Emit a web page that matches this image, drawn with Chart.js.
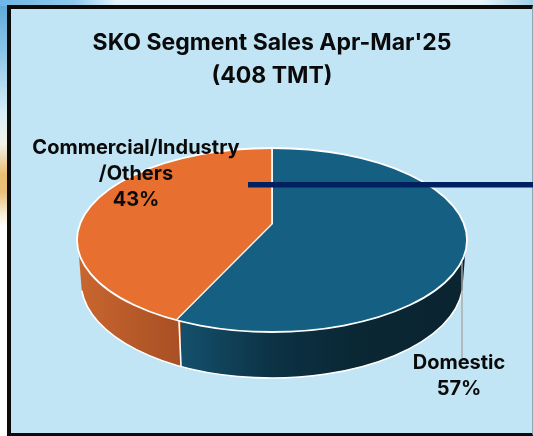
<!DOCTYPE html>
<html><head><meta charset="utf-8">
<style>
html,body{margin:0;padding:0;background:#fff;width:533px;height:436px;overflow:hidden}
#wrap{position:relative;width:533px;height:436px;
background:linear-gradient(180deg,#5aa7d8 0,#8cc6e8 12%,#d9edf7 26%,#f4f2e6 33%,#e8bf72 40%,#e8c07a 44%,#f8ecd4 49%,#ffffff 52%,#ffffff 100%)}
#top{position:absolute;left:0;top:0;width:533px;height:6px;background:linear-gradient(90deg,#6fb6e6 0,#8fcaee 14%,#e4f3fb 22%,#e8f5fb 90%,#9fd0ea 100%)}
#panel{position:absolute;left:7px;top:5px;width:526px;height:431px;box-sizing:border-box;background:#C1E5F5;border-left:4px solid #0b0b0b;border-top:4px solid #0b0b0b;border-bottom:3px solid #0b0b0b;border-right:1px solid #8fa6b2}
canvas{position:absolute;left:0;top:0}
</style></head><body>
<div id="wrap"><div id="top"></div><div id="panel"></div><canvas id="c" width="533" height="436"></canvas></div>
<script src="https://cdn.jsdelivr.net/npm/chart.js@4"></script>
<script>
const titleLines = ["SKO Segment Sales Apr-Mar'25", "(408 TMT)"];
const categories = ["Domestic", "Commercial/Industry/Others"];
const shares = [57, 43];
const sliceColors = ["#156082", "#E77030"];
const labelLines = [["Domestic", "57%"], ["Commercial/Industry", "/Others", "43%"]];

const FONT = 'Inter, Roboto, sans-serif';
const CX = 272, CY = 224;        // pivot of the slices
const TOP = {y: 240, rx: 195, ry: 92};
const LOW = {y: 282, rx: 191, ry: 96};
const SQUASH = TOP.ry / TOP.rx;

function wallPath(ctx) {
  const a1 = Math.asin(12 / TOP.ry), a2 = Math.asin(8 / LOW.ry);
  ctx.beginPath();
  ctx.ellipse(CX, TOP.y, TOP.rx, TOP.ry, 0, a1, Math.PI - a1, false);
  ctx.ellipse(CX, LOW.y, LOW.rx, LOW.ry, 0, Math.PI - a2, a2, true);
  ctx.closePath();
}
const pie3d = {
  id: 'pie3d',
  beforeDatasetsDraw(chart) {
    const ctx = chart.ctx;
    const SEAM_TOP = 179, SEAM_LOW = 181;
    ctx.save(); wallPath(ctx); ctx.clip();
    let g = ctx.createLinearGradient(75, 0, 181, 0);
    g.addColorStop(0, '#C9672F'); g.addColorStop(1, '#A84F24');
    ctx.fillStyle = g; ctx.fillRect(60, 240, SEAM_LOW - 60, 160);
    g = ctx.createLinearGradient(181, 0, 470, 0);
    g.addColorStop(0, '#14506C'); g.addColorStop(0.32, '#0C3244'); g.addColorStop(0.6, '#0A2734'); g.addColorStop(1, '#0A2430');
    ctx.fillStyle = g; ctx.fillRect(SEAM_LOW, 240, 300, 160);
    ctx.restore();
    ctx.save();
    ctx.strokeStyle = '#ffffff'; ctx.lineWidth = 1.6;
    ctx.beginPath();
    ctx.ellipse(CX, LOW.y, LOW.rx, LOW.ry, 0, 0.09, Math.PI - 0.09, false);
    ctx.stroke();
    ctx.beginPath(); ctx.moveTo(SEAM_TOP, 321); ctx.lineTo(SEAM_LOW, 366); ctx.stroke();
    ctx.restore();
    ctx.save(); ctx.strokeStyle = '#A9A9A9'; ctx.lineWidth = 1.4;
    ctx.beginPath(); ctx.moveTo(462, 262); ctx.lineTo(462, 358); ctx.stroke(); ctx.restore();
    ctx.save();
    ctx.beginPath(); ctx.ellipse(CX, TOP.y, TOP.rx, TOP.ry, 0, 0, Math.PI * 2); ctx.clip();
    ctx.translate(CX, CY); ctx.scale(1, SQUASH); ctx.translate(-CX, -CY);
  },
  afterDatasetsDraw(chart) {
    const ctx = chart.ctx;
    ctx.restore();
    ctx.save();
    ctx.strokeStyle = '#ffffff'; ctx.lineWidth = 1.8;
    ctx.beginPath(); ctx.ellipse(CX, TOP.y, TOP.rx, TOP.ry, 0, 0, Math.PI * 2); ctx.stroke();
    ctx.fillStyle = '#002060'; ctx.fillRect(248, 182, 285, 5.5);
    ctx.fillStyle = '#0a0a0a'; ctx.textAlign = 'center'; ctx.textBaseline = 'middle';
    ctx.font = 'bold 20px ' + FONT;
    labelLines[1].forEach((t, i) => ctx.fillText(t, 136, 148 + i * 26));
    labelLines[0].forEach((t, i) => ctx.fillText(t, 459, 362.5 + i * 26.5));
    ctx.restore();
  }
};
new Chart(document.getElementById('c'), {
  type: 'pie',
  data: {labels: categories, datasets: [{data: shares, backgroundColor: sliceColors, borderColor: '#ffffff', borderWidth: 1.6, clip: false}]},
  options: {
    responsive: false, animation: false, radius: 250,
    layout: {padding: {left: 11, right: 0, top: 0, bottom: 89}},
    plugins: {
      legend: {display: false}, tooltip: {enabled: false},
      title: {display: true, text: titleLines, fullSize: false, color: '#0a0a0a', font: {family: FONT, size: 23, weight: 'bold', lineHeight: 1.43}, padding: {top: 27, bottom: 8}}
    }
  },
  plugins: [pie3d]
});
</script></body></html>
